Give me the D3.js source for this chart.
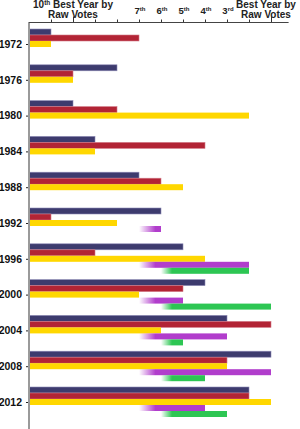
<!DOCTYPE html>
<html>
<head>
<meta charset="utf-8">
<script src="https://cdn.jsdelivr.net/npm/d3@7"></script>
<style>
  html, body { margin: 0; padding: 0; background: #fff; }
  svg { display: block; font-family: "Liberation Sans", Arial, sans-serif; }
</style>
</head>
<body>
<div id="chart"></div>
<script>
// ---- data: rank of each year's raw vote total (1 = best year) ----
const years = [1972, 1976, 1980, 1984, 1988, 1992, 1996, 2000, 2004, 2008, 2012];
const democratRank   = [11, 8, 10, 9, 7, 6, 5, 4, 3, 1, 2];
const republicanRank = [7, 10, 8, 4, 6, 11, 9, 5, 1, 3, 2];
const libertarianRank= [11, 10, 2, 9, 5, 8, 4, 7, 6, 3, 1];
const constitutionRank=[null, null, null, null, null, 6, 2, 5, 3, 1, 4];
const greenRank      = [null, null, null, null, null, null, 2, 1, 5, 4, 3];

const seriesNames  = ["Democrat", "Republican", "Libertarian", "Constitution", "Green"];
const seriesColors = ["#3d3b6e", "#b22435", "#ffd700", "#b13dcc", "#2dc653"];
const seriesRanks  = [democratRank, republicanRank, libertarianRank, constitutionRank, greenRank];

const tickRanks  = [11, 10, 9, 8, 7, 6, 5, 4, 3, 2, 1];
const majorRanks = [10, 1];
const labelRanks = [7, 6, 5, 4, 3];
const labelNums  = ["7", "6", "5", "4", "3"];
const labelSups  = ["th", "th", "th", "th", "rd"];

// ---- chart ----
const W = 300, H = 429;
const svg = d3.select("#chart").append("svg").attr("width", W).attr("height", H);
svg.append("rect").attr("width", W).attr("height", H).attr("fill", "#fff");

const x = d3.scaleLinear().domain([12, 1]).range([29, 271]);
const y = d3.scalePoint().domain(years).range([44, 402]);
const sub = d3.scaleBand().domain(seriesNames).range([-15, 15]);

// fade gradients for the short-history series
const defs = svg.append("defs");
const fades = [
  { id: "fade3", color: seriesColors[3], from: 7, to: 6.25 },
  { id: "fade4", color: seriesColors[4], from: 6, to: 5.5 }
];
fades.forEach(f => {
  const g = defs.append("linearGradient").attr("id", f.id)
    .attr("gradientUnits", "userSpaceOnUse")
    .attr("x1", x(f.from)).attr("x2", x(f.to)).attr("y1", 0).attr("y2", 0);
  g.append("stop").attr("offset", 0).attr("stop-color", f.color).attr("stop-opacity", 0);
  g.append("stop").attr("offset", 1).attr("stop-color", f.color).attr("stop-opacity", 1);
});

// bars
seriesNames.forEach((name, si) => {
  const ranks = seriesRanks[si];
  const data = years.map((yr, i) => ({ yr, r: ranks[i] })).filter(d => d.r != null);
  const fill = si === 3 ? "url(#fade3)" : si === 4 ? "url(#fade4)" : seriesColors[si];
  const startRank = si === 3 ? 7 : si === 4 ? 6 : 12;
  svg.append("g").selectAll("rect").data(data).join("rect")
    .attr("x", x(startRank))
    .attr("y", d => y(d.yr) + sub(name))
    .attr("width", d => x(d.r) - x(startRank))
    .attr("height", sub.bandwidth())
    .attr("fill", fill)
    .attr("stroke", si === 0 ? "#8d8ab5" : si === 1 ? "#d27a86" : "none")
    .attr("stroke-width", si < 2 ? 0.6 : 0);
});

// y axis
const yAxis = svg.append("g").attr("transform", `translate(29,0)`)
  .call(d3.axisLeft(y).tickSize(3).tickPadding(4).tickFormat(d3.format("d")));
yAxis.select(".domain").remove();
yAxis.selectAll(".tick line").attr("stroke", "#222");
yAxis.selectAll(".tick text").attr("font-size", 10.5).attr("font-weight", "bold")
  .attr("fill", "#111").attr("font-family", "'Liberation Sans', Arial, sans-serif");
svg.append("line").attr("x1", 29).attr("x2", 29).attr("y1", 22).attr("y2", H)
  .attr("stroke", "#9a9a9a").attr("stroke-width", 2);

// top axis
const xAxis = svg.append("g").attr("transform", `translate(0,22.5)`)
  .call(d3.axisTop(x).tickValues(tickRanks).tickSize(3).tickFormat(""));
xAxis.select(".domain").remove();
xAxis.selectAll(".tick line").attr("stroke", "#333")
  .attr("y2", d => majorRanks.includes(d) ? -6 : -3);
svg.append("line").attr("x1", x(12)).attr("x2", x(0.2)).attr("y1", 22.5).attr("y2", 22.5)
  .attr("stroke", "#444").attr("stroke-width", 1);

// rank labels
const lab = svg.append("g").selectAll("text").data(labelRanks).join("text")
  .attr("x", d => x(d) + 1).attr("y", 13.5)
  .attr("text-anchor", "middle").attr("font-size", 9.5).attr("font-weight", "bold").attr("fill", "#222");
lab.append("tspan").text((d, i) => labelNums[i]);
lab.append("tspan").attr("font-size", 6).attr("dy", -3).text((d, i) => labelSups[i]);

// end labels
const left = svg.append("text").attr("x", x(10)).attr("y", 8).attr("text-anchor", "middle")
  .attr("font-size", 10).attr("font-weight", "bold").attr("fill", "#222");
left.append("tspan").text("10");
left.append("tspan").attr("font-size", 6.5).attr("dy", -3).text("th");
left.append("tspan").attr("dy", 3).text(" Best Year by");
svg.append("text").attr("x", x(10)).attr("y", 17.5).attr("text-anchor", "middle")
  .attr("font-size", 10).attr("font-weight", "bold").attr("fill", "#222").text("Raw Votes");

svg.append("text").attr("x", 266).attr("y", 8).attr("text-anchor", "middle")
  .attr("font-size", 10).attr("font-weight", "bold").attr("fill", "#222").text("Best Year by");
svg.append("text").attr("x", 266).attr("y", 17.5).attr("text-anchor", "middle")
  .attr("font-size", 10).attr("font-weight", "bold").attr("fill", "#222").text("Raw Votes");
</script>
</body>
</html>
